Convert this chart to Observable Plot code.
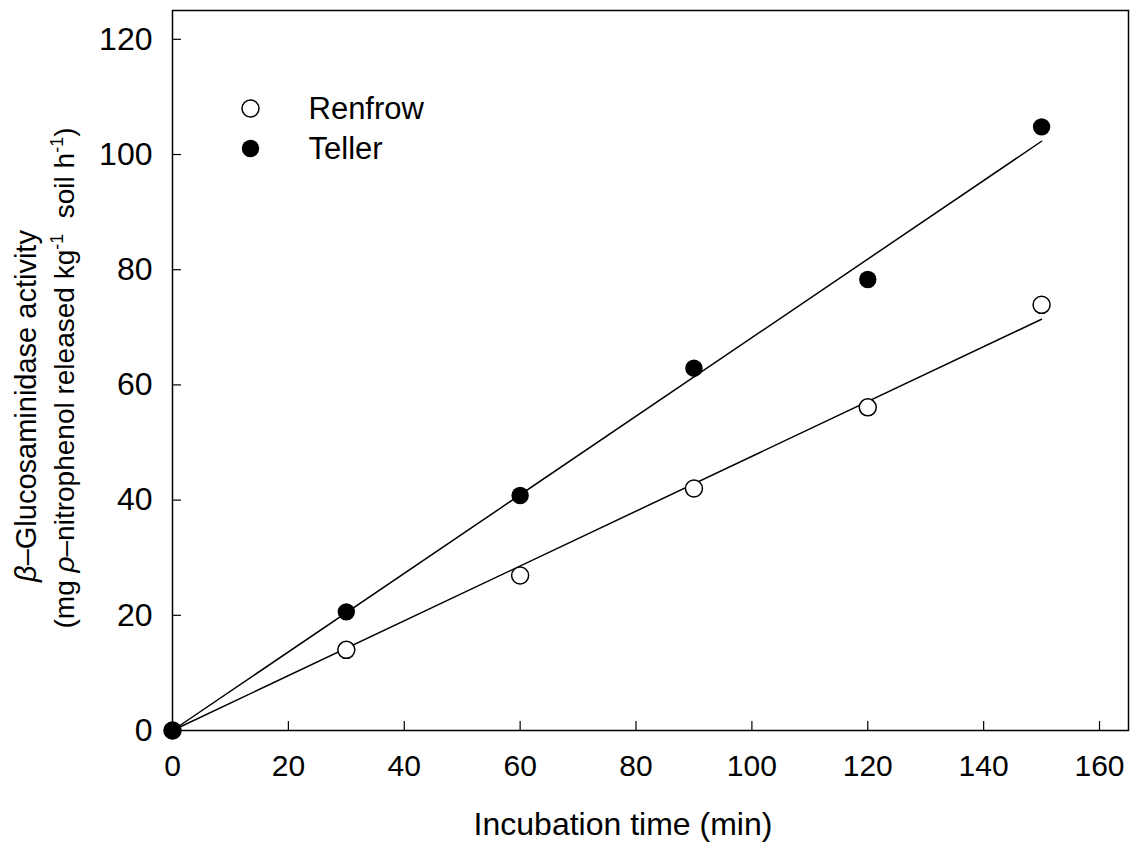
<!DOCTYPE html>
<html><head><meta charset="utf-8">
<script src="https://cdn.jsdelivr.net/npm/d3@7"></script>
<script src="https://cdn.jsdelivr.net/npm/@observablehq/plot@0.6"></script>
<style>
body{margin:0;background:#fff;}
svg{font-family:"Liberation Sans",Arial,sans-serif;}
</style>
</head><body><div id="chart"></div>
<script>
// Observed data (incubation time in min, activity)
const time = [0, 30, 60, 90, 120, 150];
const renfrow = [0, 14.0, 26.9, 42.0, 56.1, 73.9];
const teller = [0, 20.6, 40.8, 62.9, 78.3, 104.8];
// Fitted regression lines (through origin)
const fitTime = [0, 150];
const renfrowFit = [0, 71.4];
const tellerFit = [0, 102.3];
// Ticks
const xTicks = [0, 20, 40, 60, 80, 100, 120, 140, 160];
const yTicks = [0, 20, 40, 60, 80, 100, 120];
const seriesNames = ["Renfrow", "Teller"];
const xLabel = "Incubation time (min)";

const renfrowPts = time.map((t, i) => ({t, v: renfrow[i]}));
const tellerPts = time.map((t, i) => ({t, v: teller[i]}));
const renfrowLine = fitTime.map((t, i) => ({t, v: renfrowFit[i]}));
const tellerLine = fitTime.map((t, i) => ({t, v: tellerFit[i]}));

const svg = Plot.plot({
  width: 1137,
  height: 848,
  marginLeft: 172,
  marginRight: 9,
  marginTop: 10,
  marginBottom: 118,
  style: {fontFamily: '"Liberation Sans", Arial, sans-serif', color: "black", background: "white"},
  x: {domain: [0, 165], axis: null},
  y: {domain: [0, 125], axis: null},
  marks: [
    Plot.frame({stroke: "black", strokeWidth: 1.5}),
    Plot.axisX({ticks: xTicks, tickSize: -9, tickPadding: 33, fontSize: 30, label: null, strokeWidth: 1.2}),
    Plot.axisY({ticks: yTicks, tickSize: -9, tickPadding: 29, fontSize: 32, label: null, strokeWidth: 1.2}),
    Plot.line(renfrowLine, {x: "t", y: "v", stroke: "black", strokeWidth: 1.5}),
    Plot.line(tellerLine, {x: "t", y: "v", stroke: "black", strokeWidth: 1.5}),
    Plot.dot(renfrowPts, {x: "t", y: "v", r: 8.5, fill: "white", stroke: "black", strokeWidth: 1.5}),
    Plot.dot(tellerPts, {x: "t", y: "v", r: 8.7, fill: "black", stroke: "none"}),
    // legend
    Plot.dot([seriesNames[0]], {frameAnchor: "top-left", dx: 78, dy: 98, r: 8.5, fill: "white", stroke: "black", strokeWidth: 1.5}),
    Plot.dot([seriesNames[1]], {frameAnchor: "top-left", dx: 78, dy: 138, r: 8.7, fill: "black", stroke: "none"}),
    Plot.text([seriesNames[0]], {text: d => d, frameAnchor: "top-left", dx: 136, dy: 99, fontSize: 31, textAnchor: "start", lineAnchor: "middle", fill: "black"}),
    Plot.text([seriesNames[1]], {text: d => d, frameAnchor: "top-left", dx: 136, dy: 139, fontSize: 31, textAnchor: "start", lineAnchor: "middle", fill: "black"})
  ]
});

const s = d3.select(svg);
// x-axis title
s.append("text")
  .attr("x", 623).attr("y", 835)
  .attr("text-anchor", "middle")
  .attr("font-size", 32)
  .attr("fill", "black")
  .text(xLabel);

// y-axis title (two lines, rotated)
const l1 = s.append("text")
  .attr("transform", "translate(36,406) rotate(-90)")
  .attr("text-anchor", "middle")
  .attr("font-size", 29)
  .attr("fill", "black");
l1.append("tspan").attr("font-style", "italic").text("β");
l1.append("tspan").text("–Glucosaminidase activity");

const l2 = s.append("text")
  .attr("transform", "translate(74,378) rotate(-90)")
  .attr("text-anchor", "middle")
  .attr("font-size", 28)
  .attr("fill", "black");
l2.append("tspan").text("(mg ");
l2.append("tspan").attr("font-style", "italic").text("ρ");
l2.append("tspan").text("–nitrophenol released kg");
l2.append("tspan").attr("dy", -11).attr("font-size", 18).text("-1");
l2.append("tspan").attr("dy", 11).text("  soil h");
l2.append("tspan").attr("dy", -11).attr("font-size", 18).text("-1");
l2.append("tspan").attr("dy", 11).text(")");

document.getElementById("chart").appendChild(svg);
</script>
</body></html>
